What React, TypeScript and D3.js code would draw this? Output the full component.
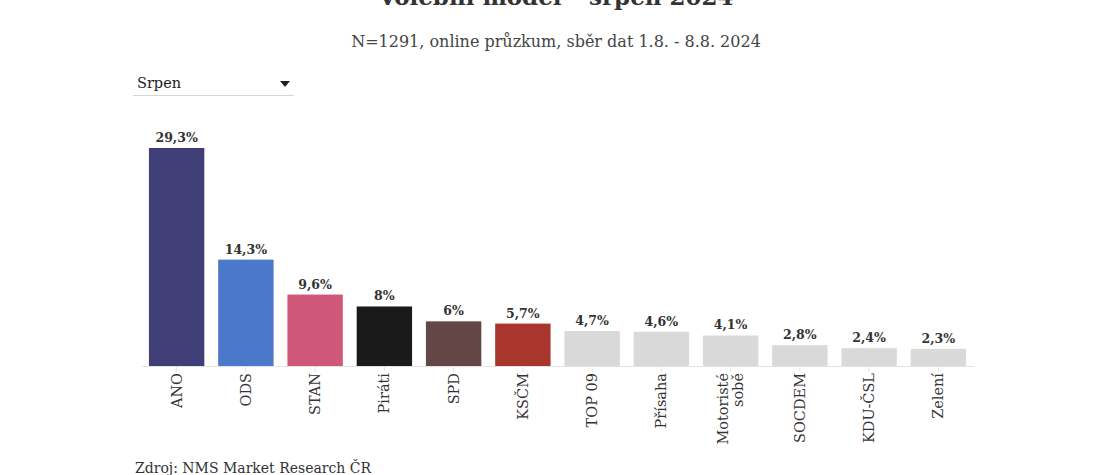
import React from 'react';
import * as d3 from 'd3';

// Volební model – srpen 2024
const parties = ['ANO', 'ODS', 'STAN', 'Piráti', 'SPD', 'KSČM', 'TOP 09', 'Přísaha', 'Motoristé sobě', 'SOCDEM', 'KDU-ČSL', 'Zelení'];
const shares = [29.3, 14.3, 9.6, 8, 6, 5.7, 4.7, 4.6, 4.1, 2.8, 2.4, 2.3];
const partyColors = ['#3f3e76', '#4c78c9', '#cf5878', '#1a1a1a', '#634747', '#a8362d', '#d9d9d9', '#d9d9d9', '#d9d9d9', '#d9d9d9', '#d9d9d9', '#d9d9d9'];

const W = 1100;
const H = 475;
const FONT = '"DejaVu Serif", "Liberation Serif", serif';

export default function App() {
  const x = d3.scaleBand<string>()
    .domain(parties)
    .range([142, 973])
    .paddingInner(0.2)
    .paddingOuter(0.1);
  const y = d3.scaleLinear().domain([0, 29.3]).range([366, 148]);

  const fmt = (v: number) => String(v).replace('.', ',') + '%';

  // split long labels into two lines
  const lines = (name: string) => (name === 'Motoristé sobě' ? ['Motoristé', 'sobě'] : [name]);

  return (
    <div style={{ position: 'absolute', left: 0, top: 0 }}>
      <svg width={W} height={H} style={{ display: 'block', background: '#fff' }} fontFamily={FONT}>
        <text x={556} y={5} textAnchor="middle" fontSize={23} fontWeight="bold" fill="#333">
          Volební model – srpen 2024
        </text>
        <text x={556} y={47} textAnchor="middle" fontSize={16} fill="#444">
          N=1291, online průzkum, sběr dat 1.8. - 8.8. 2024
        </text>

        {/* dropdown */}
        <text x={137} y={88} fontSize={14.5} fill="#222">Srpen</text>
        <path d="M280,81 L290,81 L285,87 Z" fill="#222" />
        <line x1={133} x2={294} y1={95.5} y2={95.5} stroke="#d6d6d6" />

        {/* axis */}
        <line x1={142} x2={974} y1={y(0) + 0.5} y2={y(0) + 0.5} stroke="#e2e2e2" />
        {parties.map((p) => (
          <line key={'t' + p} x1={x(p)! + x.bandwidth() / 2} x2={x(p)! + x.bandwidth() / 2}
            y1={y(0)} y2={y(0) + 6} stroke="#e2e2e2" />
        ))}

        {parties.map((p, i) => {
          const bx = x(p)!;
          const cx = bx + x.bandwidth() / 2;
          const ls = lines(p);
          return (
            <g key={p}>
              <rect x={bx} y={y(shares[i])} width={x.bandwidth()} height={y(0) - y(shares[i])} fill={partyColors[i]} />
              <text x={cx} y={y(shares[i]) - 6} textAnchor="middle" fontSize={12.5} fontWeight="bold" fill="#333">
                {fmt(shares[i])}
              </text>
              <text transform={`translate(${cx},${y(0) + 7}) rotate(-90)`} textAnchor="end" fontSize={14.5} fill="#333">
                {ls.map((l, j) => (
                  <tspan key={l} x={0} y={(j - (ls.length - 1) / 2) * 15 + 5}>{l}</tspan>
                ))}
              </text>
            </g>
          );
        })}

        <text x={135} y={473} fontSize={14} fill="#333">Zdroj: NMS Market Research ČR</text>
        <text x={924} y={490} fontSize={24} fontWeight="bold" fill="#2b4f87">ᴄᴍᴀ</text>
      </svg>
    </div>
  );
}
